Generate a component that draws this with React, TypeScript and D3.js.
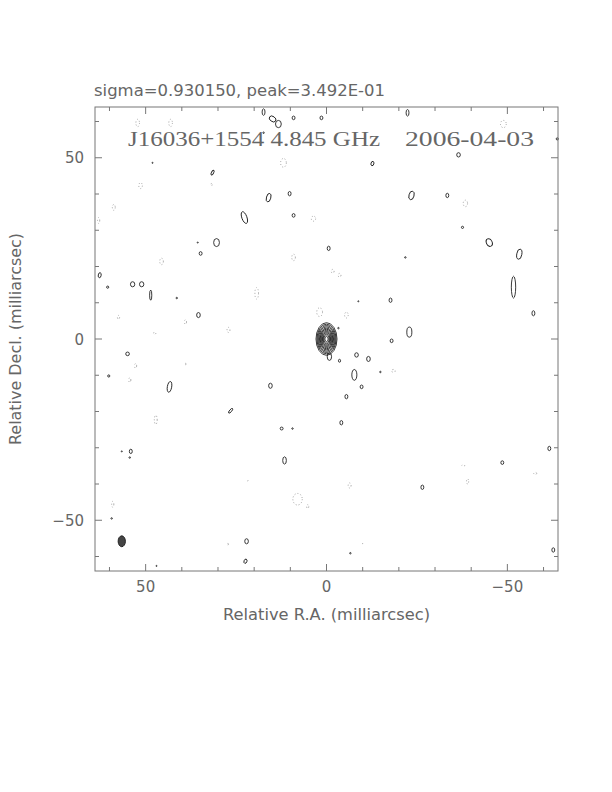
import { useEffect, useRef } from "react";
import * as d3 from "d3";

// positive (solid) contour islands: [RA, Dec, semi-axis x, semi-axis y, angle] in mas
const positiveIslands: number[][] = [
  [17.4, 62.6, 0.4, 0.9, 0], [14.9, 60.7, 1.0, 0.7, 35], [13.3, 59.3, 0.8, 1.0, 0],
  [9.1, 61.0, 0.4, 0.5, 0], [1.4, 61.0, 0.4, 0.5, 0], [-22.4, 62.4, 0.4, 0.9, 0],
  [-36.5, 50.8, 0.5, 0.6, 0], [-12.7, 48.4, 0.4, 0.6, 15], [-23.5, 39.6, 0.7, 1.2, 15],
  [-33.4, 39.6, 0.4, 0.6, 0], [-37.6, 30.8, 0.3, 0.3, 0], [-45.0, 26.6, 0.8, 1.1, -25],
  [-53.3, 23.4, 0.7, 1.4, 10], [-51.7, 14.3, 0.6, 3.0, 0], [-57.2, 7.1, 0.4, 0.7, 0],
  [-63.8, 55.2, 0.3, 0.3, 0], [-21.8, 22.5, 0.2, 0.2, 0], [-17.7, 10.7, 0.4, 0.6, 0],
  [-22.9, 1.9, 0.7, 1.4, 0], [-18.0, -0.5, 0.4, 0.5, 0], [-8.3, -4.4, 0.5, 0.6, 0],
  [-11.6, -5.5, 0.5, 0.7, 0], [-7.7, -9.9, 0.7, 1.5, 0], [-9.7, -13.2, 0.4, 0.5, 0],
  [-5.5, -15.9, 0.4, 0.6, 0], [-4.1, -23.1, 0.4, 0.6, 0], [-26.5, -40.9, 0.4, 0.6, 0],
  [-48.6, -34.1, 0.4, 0.5, 0], [-61.6, -30.2, 0.4, 0.6, 0], [-62.7, -58.2, 0.4, 0.6, 0],
  [-6.6, -59.1, 0.2, 0.2, 0], [-14.9, -9.1, 0.2, 0.2, 0], [-8.8, 10.4, 0.15, 0.15, 0],
  [-3.3, 3.0, 0.2, 0.2, 0], [-3.6, -6.0, 0.3, 0.4, 0], [-0.8, -4.9, 0.6, 1.0, 0],
  [48.6, 12.1, 0.3, 1.4, 0], [41.4, 11.3, 0.2, 0.2, 0], [35.4, 6.6, 0.5, 0.7, 0],
  [55.0, -4.1, 0.5, 0.5, 0], [60.2, -10.2, 0.3, 0.3, 0], [43.4, -13.2, 0.6, 1.5, 10],
  [15.5, -12.9, 0.5, 0.7, 0], [26.5, -19.8, 0.3, 0.8, 40], [12.4, -24.7, 0.4, 0.4, 0],
  [9.4, -24.7, 0.2, 0.2, 0], [54.1, -31.0, 0.4, 0.6, 0], [56.6, -31.0, 0.15, 0.15, 0],
  [54.4, -32.7, 0.2, 0.2, 0], [11.6, -33.5, 0.5, 1.0, 0], [22.1, -55.8, 0.5, 0.7, 0],
  [22.4, -61.3, 0.4, 0.6, 20], [59.4, -49.5, 0.2, 0.2, 0], [47.0, -62.6, 0.15, 0.15, 0],
  [31.5, 45.9, 0.3, 0.7, 30], [16.0, 39.0, 0.6, 1.2, 15], [10.2, 40.1, 0.4, 0.6, 0],
  [22.7, 33.5, 0.7, 1.7, -20], [9.1, 34.1, 0.4, 0.5, 0], [30.4, 26.6, 0.8, 1.1, 0],
  [35.6, 26.6, 0.15, 0.15, 0], [34.8, 23.6, 0.4, 0.5, 0], [-0.6, 25.0, 0.4, 0.6, 0],
  [62.7, 17.6, 0.4, 0.7, 10], [60.5, 14.3, 0.3, 0.3, 0], [53.6, 15.1, 0.6, 0.7, 0],
  [51.1, 15.1, 0.6, 0.7, 0], [48.1, 48.6, 0.15, 0.15, 0], [17.4, 56.9, 0.2, 0.2, 0],
];

// negative (dotted) contour islands: [RA, Dec, semi-axis x, semi-axis y]
const negativeIslands: number[][] = [
  [52.2, 59.6, 0.5, 1.0], [43.1, 59.6, 0.5, 1.0], [11.9, 48.6, 0.8, 1.2],
  [51.4, 42.3, 0.5, 0.8], [58.8, 36.3, 0.4, 0.8], [63.0, 32.7, 0.3, 0.8],
  [31.8, 42.6, 0.2, 0.3], [3.6, 33.2, 0.6, 0.7], [45.6, 21.4, 0.5, 0.9],
  [9.1, 22.5, 0.5, 0.9], [-1.7, 18.7, 0.4, 0.5], [-3.6, 17.6, 0.4, 0.5],
  [19.3, 12.6, 0.5, 1.6], [-48.9, 59.3, 0.8, 1.0], [-38.4, 37.4, 0.6, 0.9],
  [57.5, 6.0, 0.3, 0.5], [39.0, 4.7, 0.3, 0.6], [27.1, 2.5, 0.4, 0.7],
  [47.5, 1.6, 0.3, 0.3], [1.9, 7.4, 0.8, 1.2], [-5.5, 6.6, 0.5, 0.8],
  [52.8, -7.4, 0.3, 0.6], [54.4, -11.3, 0.3, 0.6], [47.2, -22.3, 0.4, 1.2],
  [8.0, -44.2, 1.3, 1.6], [5.2, -46.2, 0.3, 0.5], [59.1, -45.6, 0.3, 0.8],
  [39.0, -6.9, 0.2, 0.2], [21.8, -39.0, 0.15, 0.15], [27.3, -56.6, 0.2, 0.2],
  [-6.4, -40.4, 0.4, 0.7], [-18.5, -8.8, 0.5, 0.4], [-37.8, -34.9, 0.4, 0.2],
  [-39.0, -39.3, 0.3, 0.7], [-57.7, -37.1, 0.4, 0.3], [-9.9, -56.3, 0.15, 0.15],
];

// core component: centre and outer contour semi-axes (mas), relative level sizes
const coreCentre = [0, 0];
const coreAxes = [2.9, 4.5];
const coreLevels = [1, 0.91, 0.83, 0.75, 0.67, 0.6, 0.53, 0.46, 0.39, 0.32, 0.25, 0.16];

// restoring beam
const beam = [56.6, -55.8, 1.0, 1.5];

const majorTicks = [50, 0, -50];
const minorTicks = [60, 40, 30, 20, 10, -10, -20, -30, -40, -60];

const App = () => {
  const svgRef = useRef<SVGSVGElement>(null);

  useEffect(() => {
    const svg = d3.select(svgRef.current);
    svg.selectAll("*").remove();

    const left = 95, right = 558, top = 107, bottom = 571;
    const x = d3.scaleLinear().domain([64, -64]).range([left, right]);
    const y = d3.scaleLinear().domain([64, -64]).range([top, bottom]);
    const sx = (v: number) => Math.abs(x(v) - x(0));
    const sy = (v: number) => Math.abs(y(v) - y(0));

    const textColor = "#666";
    const frameColor = "#777";

    const plot = svg.append("g");

    // negative contours
    plot.selectAll("ellipse.neg")
      .data(negativeIslands)
      .join("ellipse")
      .attr("class", "neg")
      .attr("cx", (d) => x(d[0]))
      .attr("cy", (d) => y(d[1]))
      .attr("rx", (d) => sx(d[2]))
      .attr("ry", (d) => sy(d[3]))
      .attr("fill", "none")
      .attr("stroke", "#999")
      .attr("stroke-width", 0.9)
      .attr("stroke-dasharray", "1,2");

    // positive contours
    plot.selectAll("ellipse.pos")
      .data(positiveIslands)
      .join("ellipse")
      .attr("class", "pos")
      .attr("cx", 0)
      .attr("cy", 0)
      .attr("transform", (d) => `translate(${x(d[0])},${y(d[1])}) rotate(${d[4]})`)
      .attr("rx", (d) => sx(d[2]))
      .attr("ry", (d) => sy(d[3]))
      .attr("fill", "none")
      .attr("stroke", "#222")
      .attr("stroke-width", 0.9);

    // core
    plot.selectAll("ellipse.core")
      .data(coreLevels)
      .join("ellipse")
      .attr("class", "core")
      .attr("cx", x(coreCentre[0]))
      .attr("cy", y(coreCentre[1]))
      .attr("rx", (d) => sx(coreAxes[0] * d))
      .attr("ry", (d) => sy(coreAxes[1] * d))
      .attr("fill", "none")
      .attr("stroke", "#222")
      .attr("stroke-width", 0.9);

    // beam
    plot.append("ellipse")
      .attr("cx", x(beam[0]))
      .attr("cy", y(beam[1]))
      .attr("rx", sx(beam[2]))
      .attr("ry", sy(beam[3]))
      .attr("fill", "#444")
      .attr("stroke", "#222");

    // frame
    svg.append("rect")
      .attr("x", left).attr("y", top)
      .attr("width", right - left).attr("height", bottom - top)
      .attr("fill", "none").attr("stroke", frameColor).attr("stroke-width", 1);

    const ticks = svg.append("g").attr("stroke", frameColor).attr("stroke-width", 1);
    const tickSet = [
      ...majorTicks.map((v) => ({ v, len: 7 })),
      ...minorTicks.map((v) => ({ v, len: 4 })),
    ];
    tickSet.forEach(({ v, len }) => {
      ticks.append("line").attr("x1", x(v)).attr("x2", x(v)).attr("y1", bottom).attr("y2", bottom - len);
      ticks.append("line").attr("x1", x(v)).attr("x2", x(v)).attr("y1", top).attr("y2", top + len);
      ticks.append("line").attr("y1", y(v)).attr("y2", y(v)).attr("x1", left).attr("x2", left + len);
      ticks.append("line").attr("y1", y(v)).attr("y2", y(v)).attr("x1", right).attr("x2", right - len);
    });

    const font = "'DejaVu Sans', sans-serif";
    const fmt = (v: number) => (v < 0 ? "\u2212" + Math.abs(v) : String(v));

    svg.append("g").selectAll("text")
      .data(majorTicks)
      .join("text")
      .attr("x", (d) => x(d))
      .attr("y", bottom + 21)
      .attr("text-anchor", "middle")
      .attr("font-family", font)
      .attr("font-size", 15)
      .attr("fill", textColor)
      .text(fmt);

    svg.append("g").selectAll("text")
      .data(majorTicks)
      .join("text")
      .attr("x", left - 11)
      .attr("y", (d) => y(d) + 5.5)
      .attr("text-anchor", "end")
      .attr("font-family", font)
      .attr("font-size", 15)
      .attr("fill", textColor)
      .text(fmt);

    svg.append("text")
      .attr("x", x(0))
      .attr("y", 620)
      .attr("text-anchor", "middle")
      .attr("font-family", font)
      .attr("font-size", 15)
      .attr("fill", textColor)
      .attr("textLength", 207)
      .attr("lengthAdjust", "spacingAndGlyphs")
      .text("Relative R.A. (milliarcsec)");

    svg.append("text")
      .attr("transform", `translate(21,${y(0)}) rotate(-90)`)
      .attr("text-anchor", "middle")
      .attr("font-family", font)
      .attr("font-size", 15)
      .attr("fill", textColor)
      .attr("textLength", 212)
      .attr("lengthAdjust", "spacingAndGlyphs")
      .text("Relative Decl. (milliarcsec)");

    svg.append("text")
      .attr("x", 94)
      .attr("y", 96)
      .attr("font-family", font)
      .attr("font-size", 15)
      .attr("fill", textColor)
      .attr("textLength", 291)
      .attr("lengthAdjust", "spacingAndGlyphs")
      .text("sigma=0.930150, peak=3.492E-01");

    const serif = "'Liberation Serif', serif";
    svg.append("text")
      .attr("x", 128)
      .attr("y", 146)
      .attr("font-family", serif)
      .attr("font-size", 20)
      .attr("fill", textColor)
      .attr("textLength", 252)
      .attr("lengthAdjust", "spacingAndGlyphs")
      .text("J16036+1554 4.845 GHz");
    svg.append("text")
      .attr("x", 405)
      .attr("y", 146)
      .attr("font-family", serif)
      .attr("font-size", 20)
      .attr("fill", textColor)
      .attr("textLength", 129)
      .attr("lengthAdjust", "spacingAndGlyphs")
      .text("2006-04-03");
  }, []);

  return (
    <div>
      <svg
        ref={svgRef}
        width={612}
        height={792}
        style={{ position: "absolute", left: 0, top: 0, background: "white" }}
      />
    </div>
  );
};

export default App;
